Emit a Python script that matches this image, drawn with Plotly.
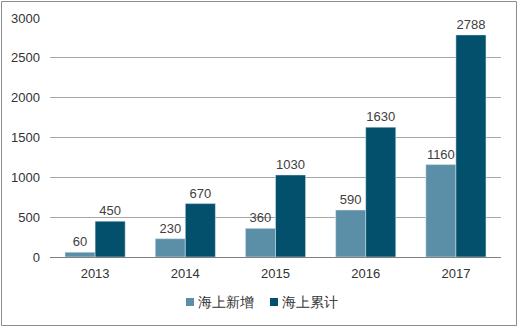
import plotly.graph_objects as go

years = ["2013", "2014", "2015", "2016", "2017"]
new_added = [60, 230, 360, 590, 1160]
cumulative = [450, 670, 1030, 1630, 2788]
series_names = ["海上新增", "海上累计"]
colors = ["#5B8FA8", "#03506C"]
y_ticks = [0, 500, 1000, 1500, 2000, 2500, 3000]

W, H = 518, 327
ml, mr, mt, mb = 50, 17, 18, 70
pw, ph = W - ml - mr, H - mt - mb

fig = go.Figure()
for name, vals, col in zip(series_names, [new_added, cumulative], colors):
    fig.add_trace(go.Bar(x=years, y=vals, name=name, marker_color=col,
                         text=vals, textposition="outside",
                         textfont=dict(size=13, color="#404040"), cliponaxis=False))

def px_x(p):
    return (p - ml) / pw

def px_y(p):
    return (H - mb - p) / ph

fig.add_shape(type="rect", xref="paper", yref="paper",
              x0=px_x(1.5), x1=px_x(W - 1.5), y0=px_y(H - 1.5), y1=px_y(1.5),
              line=dict(color="#8C8C8C", width=1), layer="below")

# custom legend
legend_x = [186, 270]
for lx, name, col in zip(legend_x, series_names, colors):
    fig.add_shape(type="rect", xref="paper", yref="paper",
                  x0=px_x(lx), x1=px_x(lx + 8), y0=px_y(306), y1=px_y(298),
                  line=dict(width=0), fillcolor=col)
    fig.add_annotation(xref="paper", yref="paper", x=px_x(lx + 10), y=px_y(302),
                       xanchor="left", yanchor="middle", showarrow=False,
                       text=name, font=dict(size=14, color="#333333"))

fig.update_layout(
    width=W, height=H,
    margin=dict(l=ml, r=mr, t=mt, b=mb),
    paper_bgcolor="white", plot_bgcolor="white",
    barmode="group", bargap=0.333, bargroupgap=0,
    font=dict(family="Liberation Sans, Arial, sans-serif", size=13, color="#333333"),
    showlegend=False,
    xaxis=dict(showgrid=False, showline=False, ticks="", tickfont=dict(size=13),
               ticklabelstandoff=7),
    yaxis=dict(range=[0, 3000], tickvals=y_ticks, showgrid=True, gridcolor="#A6A6A6",
               gridwidth=1, zeroline=True, zerolinecolor="#808080", zerolinewidth=1,
               showline=False, ticks="", tickfont=dict(size=13), ticklabelstandoff=9),
)

fig.write_html("out.html")
